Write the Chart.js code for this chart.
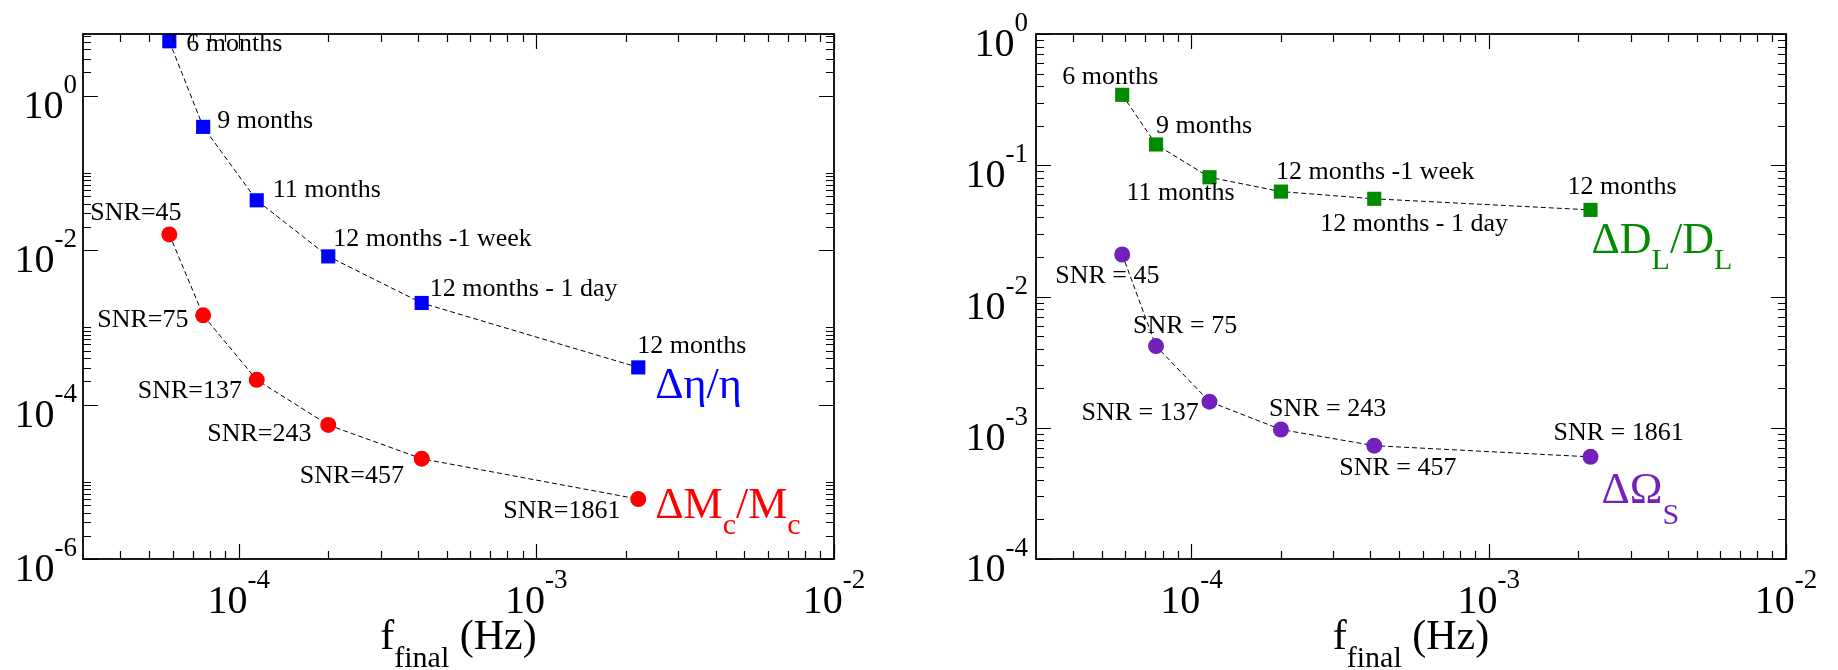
<!DOCTYPE html>
<html>
<head>
<meta charset="utf-8">
<script src="https://cdn.jsdelivr.net/npm/chart.js@4"></script>
<style>
  html,body{ margin:0; padding:0; background:#fff; }
  #wrap{ position:relative; width:1838px; height:670px; }
  canvas{ position:absolute; top:0; }
</style>
</head>
<body>
<div id="wrap">
  <canvas id="c-left" width="919" height="670" style="left:0"></canvas>
  <canvas id="c-right" width="919" height="670" style="left:919px"></canvas>
</div>
<script>
/* ---- data ---- */
const F_FINAL   = [5.85e-5, 7.6e-5, 1.15e-4, 2.0e-4, 4.12e-4, 2.2e-3];
const ETA_ERR   = [5.07, 0.395, 0.0442, 8.3e-3, 2.07e-3, 3.03e-4];
const MC_ERR    = [0.016, 1.43e-3, 2.09e-4, 5.45e-5, 1.99e-5, 5.97e-6];
const DL_ERR    = [0.344, 0.144, 0.081, 0.063, 0.0555, 0.0457];
const OMEGA_ERR = [0.0209, 4.19e-3, 1.58e-3, 9.7e-4, 7.3e-4, 6.0e-4];
const DURATION  = ['6 months','9 months','11 months','12 months -1 week','12 months - 1 day','12 months'];
const SNR       = [45, 75, 137, 243, 457, 1861];

const X_TICKS       = [1e-4, 1e-3, 1e-2];
const Y_TICKS_LEFT  = [1e0, 1e-2, 1e-4, 1e-6];
const Y_TICKS_RIGHT = [1e0, 1e-1, 1e-2, 1e-3, 1e-4];

/* label offsets from their point (px, to left/baseline of text) */
const OFF_L_MONTHS = [[17,10],[14,1],[16,-3],[5,-10],[8,-7],[-1,-14]];
const OFF_L_SNR    = [[-79,-14],[-106,12],[-119,18],[-121,16],[-122,24],[-135,19]];
const OFF_R_MONTHS = [[-60,-11],[0,-11],[-83,23],[-5,-13],[-54,32],[-23,-16]];
const OFF_R_SNR    = [[-67,29],[-23,-13],[-128,18],[-12,-13],[-35,29],[-37,-17]];

const FONT = '"Liberation Serif", "Times New Roman", serif';
const BLUE = '#0000ff', RED = '#ff0000', GREEN = '#008b00', INDIGO = '#7221bc';

function font(sz){ return sz + 'px ' + FONT; }

function drawRich(ctx, parts, x, y, align){
  let w = 0;
  parts.forEach(p => { ctx.font = font(p.size); p.w = ctx.measureText(p.t).width; w += p.w; });
  let cx = align === 'right' ? x - w : align === 'center' ? x - w/2 : x;
  ctx.textAlign = 'left'; ctx.textBaseline = 'alphabetic';
  parts.forEach(p => { ctx.font = font(p.size); ctx.fillText(p.t, cx, y + (p.dy || 0)); cx += p.w; });
}

function pow10(v){ return [{t:'10', size:40}, {t:String(Math.round(Math.log10(v))), size:27, dy:-25}]; }

function minorTicks(majors, kMax, lo, hi){
  const out = [];
  majors.forEach(m => { for(let k = 2; k <= kMax; k++){ const v = k*m; if(v > lo*1.001 && v < hi*0.999) out.push(v); } });
  return out;
}

function makePanel(id, p){
  const frame = {
    id: 'frame-' + id,
    afterDraw(chart){
      const ctx = chart.ctx, a = chart.chartArea;
      const xs = chart.scales.x, ys = chart.scales.y;
      ctx.save();
      ctx.strokeStyle = '#000'; ctx.fillStyle = '#000';
      // ticks, mirrored on all four sides
      ctx.lineWidth = 1.2;
      const xMinor = minorTicks([1e-5,1e-4,1e-3], 9, p.xMin, p.xMax);
      const tickX = (v, len) => { const px = Math.round(xs.getPixelForValue(v)) + .5;
        ctx.beginPath(); ctx.moveTo(px, a.bottom); ctx.lineTo(px, a.bottom - len);
        ctx.moveTo(px, a.top); ctx.lineTo(px, a.top + len); ctx.stroke(); };
      const tickY = (v, len) => { const py = Math.round(ys.getPixelForValue(v)) + .5;
        ctx.beginPath(); ctx.moveTo(a.left, py); ctx.lineTo(a.left + len, py);
        ctx.moveTo(a.right, py); ctx.lineTo(a.right - len, py); ctx.stroke(); };
      X_TICKS.forEach(v => tickX(v, 15));
      xMinor.forEach(v => tickX(v, 8));
      p.yTicks.forEach(v => tickY(v, 15));
      minorTicks(p.yTicks, p.yKMax, p.yMin, p.yMax).forEach(v => tickY(v, 8));
      // frame
      ctx.lineWidth = 1.8;
      ctx.strokeRect(a.left, a.top, a.right - a.left, a.bottom - a.top);
      // tick labels
      p.yTicks.forEach(v => drawRich(ctx, pow10(v), a.left - p.yGap, ys.getPixelForValue(v) + 22, 'right'));
      X_TICKS.forEach(v => drawRich(ctx, pow10(v), xs.getPixelForValue(v), a.bottom + 54, 'center'));
      // axis title
      drawRich(ctx, [{t:'f', size:42}, {t:'final', size:30, dy:18}, {t:' (Hz)', size:42}], (a.left + a.right)/2, 649, 'center');
      // point annotations and series names
      p.series.forEach(s => {
        s.labels.forEach((txt, i) => {
          const px = xs.getPixelForValue(F_FINAL[i]), py = ys.getPixelForValue(s.values[i]);
          ctx.fillStyle = '#000';
          drawRich(ctx, [{t:txt, size:26}], px + s.offsets[i][0], py + s.offsets[i][1], 'left');
        });
        const last = s.values.length - 1;
        const px = xs.getPixelForValue(F_FINAL[last]), py = ys.getPixelForValue(s.values[last]);
        ctx.fillStyle = s.color;
        drawRich(ctx, s.name, px + s.nameOff[0], py + s.nameOff[1], 'left');
      });
      ctx.restore();
    }
  };

  return new Chart(document.getElementById(id), {
    type: 'line',
    data: {
      datasets: p.series.map(s => ({
        data: F_FINAL.map((f, i) => ({ x: f, y: s.values[i] })),
        borderColor: '#000', borderWidth: 1, borderDash: [5,3], tension: 0,
        pointStyle: s.marker, pointRadius: s.marker === 'rect' ? 10 : 8, pointHoverRadius: s.marker === 'rect' ? 10 : 8,
        pointBackgroundColor: s.color, pointBorderWidth: 0, clip: false
      }))
    },
    options: {
      responsive: false, animation: false, events: [],
      layout: { padding: p.pad },
      plugins: { legend: { display: false }, tooltip: { enabled: false } },
      scales: {
        x: { type: 'logarithmic', min: p.xMin, max: p.xMax, display: false },
        y: { type: 'logarithmic', min: p.yMin, max: p.yMax, display: false }
      }
    },
    plugins: [frame]
  });
}

makePanel('c-left', {
  pad: { left: 83, top: 34, right: 85, bottom: 111 },
  xMin: 3e-5, xMax: 1e-2, yMin: 1e-6, yMax: 6.3, yTicks: Y_TICKS_LEFT, yKMax: 10, yGap: 6,
  series: [
    { values: ETA_ERR, color: BLUE, marker: 'rect', labels: DURATION, offsets: OFF_L_MONTHS,
      name: [{t:'\u0394\u03b7/\u03b7', size:44}], nameOff: [17, 31] },
    { values: MC_ERR, color: RED, marker: 'circle', labels: SNR.map(n => 'SNR=' + n), offsets: OFF_L_SNR,
      name: [{t:'\u0394M', size:44}, {t:'c', size:30, dy:16}, {t:'/M', size:44}, {t:'c', size:30, dy:16}], nameOff: [17, 19] }
  ]
});

makePanel('c-right', {
  pad: { left: 117, top: 34, right: 52, bottom: 111 },
  xMin: 3e-5, xMax: 1e-2, yMin: 1e-4, yMax: 1, yTicks: Y_TICKS_RIGHT, yKMax: 9, yGap: 8,
  series: [
    { values: DL_ERR, color: GREEN, marker: 'rect', labels: DURATION, offsets: OFF_R_MONTHS,
      name: [{t:'\u0394D', size:44}, {t:'L', size:30, dy:16}, {t:'/D', size:44}, {t:'L', size:30, dy:16}], nameOff: [1, 43] },
    { values: OMEGA_ERR, color: INDIGO, marker: 'circle', labels: SNR.map(n => 'SNR = ' + n), offsets: OFF_R_SNR,
      name: [{t:'\u0394\u03a9', size:44}, {t:'S', size:30, dy:21}], nameOff: [11, 46] }
  ]
});
</script>
</body>
</html>
